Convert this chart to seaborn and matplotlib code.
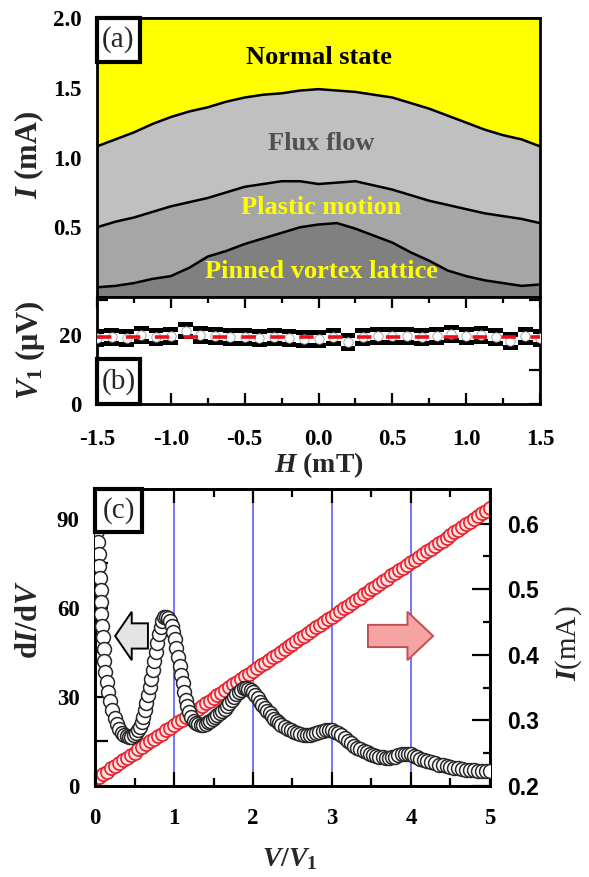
import numpy as np
import matplotlib
matplotlib.use('Agg')
import matplotlib.pyplot as plt
import seaborn as sns
from matplotlib.patches import Rectangle, FancyArrow
from matplotlib.ticker import FixedLocator

# (a) phase boundaries I(H)
field = [-1.5, -1.375, -1.25, -1.125, -1.0, -0.875, -0.75, -0.625, -0.5, -0.375, -0.25, -0.125,
         0.0, 0.125, 0.25, 0.375, 0.5, 0.625, 0.75, 0.875, 1.0, 1.125, 1.25, 1.375, 1.5]
i_normal = [1.08, 1.13, 1.18, 1.24, 1.29, 1.33, 1.36, 1.40, 1.43, 1.45, 1.46, 1.48,
            1.49, 1.48, 1.47, 1.45, 1.43, 1.39, 1.35, 1.30, 1.25, 1.20, 1.16, 1.13, 1.08]
i_plastic = [0.50, 0.54, 0.57, 0.61, 0.65, 0.68, 0.71, 0.75, 0.79, 0.81, 0.83, 0.83,
             0.81, 0.82, 0.83, 0.80, 0.77, 0.73, 0.69, 0.66, 0.63, 0.60, 0.58, 0.56, 0.53]
i_pinned = [0.07, 0.08, 0.10, 0.13, 0.15, 0.21, 0.29, 0.33, 0.38, 0.42, 0.46, 0.50,
            0.52, 0.53, 0.49, 0.44, 0.39, 0.32, 0.26, 0.19, 0.15, 0.12, 0.10, 0.08, 0.09]
h_major = [-1.5, -1.0, -0.5, 0.0, 0.5, 1.0, 1.5]
h_minor = [-1.25, -0.75, -0.25, 0.25, 0.75, 1.25]
h_labels = ['-1.5', '-1.0', '-0.5', '0.0', '0.5', '1.0', '1.5']

# (b) V1(H)
field_b = [-1.5, -1.4, -1.3, -1.2, -1.1, -1.0, -0.9, -0.8, -0.7, -0.6, -0.5, -0.4, -0.3, -0.2, -0.1,
           0.0, 0.1, 0.2, 0.3, 0.4, 0.5, 0.6, 0.7, 0.8, 0.9, 1.0, 1.1, 1.2, 1.3, 1.4, 1.5]
v1 = [19.0, 19.4, 19.1, 20.1, 19.3, 19.7, 21.3, 19.9, 19.6, 19.5, 19.4, 19.2, 19.3, 19.0, 18.8,
      18.9, 19.4, 17.9, 19.3, 19.8, 19.8, 19.6, 19.5, 19.6, 20.4, 19.6, 20.1, 19.5, 18.2, 19.6, 19.0]
v1_mean = 19.5

# (c) dI/dV vs V/V1
vv1 = [0.02, 0.03, 0.04, 0.05, 0.055, 0.06, 0.07, 0.075, 0.08, 0.09, 0.10, 0.11, 0.12, 0.13, 0.15,
       0.17, 0.19, 0.22, 0.25, 0.28, 0.31, 0.34, 0.37, 0.40, 0.43, 0.46, 0.49, 0.52, 0.55, 0.57,
       0.59, 0.61, 0.63, 0.65, 0.67, 0.69, 0.71, 0.73, 0.75, 0.77, 0.79, 0.81, 0.83, 0.85, 0.875,
       0.90, 0.925, 0.95, 0.97, 0.99, 1.01, 1.03, 1.05, 1.07, 1.09, 1.11, 1.13, 1.15, 1.17, 1.19,
       1.22, 1.25, 1.28, 1.31, 1.34, 1.37, 1.40, 1.43, 1.46, 1.49, 1.52, 1.55, 1.58, 1.61, 1.64,
       1.67, 1.70, 1.73, 1.76, 1.79, 1.82, 1.85, 1.88, 1.91, 1.94, 1.97, 2.00, 2.03, 2.06, 2.09,
       2.12, 2.15, 2.18, 2.21, 2.24, 2.27, 2.30, 2.33, 2.36, 2.40, 2.44, 2.48, 2.52, 2.56, 2.60,
       2.64, 2.68, 2.72, 2.76, 2.80, 2.84, 2.88, 2.92, 2.96, 3.00, 3.04, 3.08, 3.12, 3.16, 3.20,
       3.24, 3.28, 3.32, 3.36, 3.40, 3.44, 3.48, 3.52, 3.56, 3.60, 3.64, 3.68, 3.72, 3.76, 3.80,
       3.84, 3.88, 3.92, 3.96, 4.00, 4.04, 4.08, 4.12, 4.16, 4.20, 4.25, 4.30, 4.35, 4.40, 4.45,
       4.50, 4.55, 4.60, 4.65, 4.70, 4.75, 4.80, 4.85, 4.90, 4.95, 5.00]
didv = [90, 86, 82, 78, 74, 70, 66, 62, 58, 54, 50, 46, 42, 38.5, 35,
        31.5, 28.5, 25.5, 23, 21, 19.3, 18, 17.2, 16.7, 16.5, 16.6, 17.0, 17.8, 18.8, 20,
        21.5, 23.3, 25.5, 28, 30.5, 33.3, 36, 39, 42, 45, 48, 51, 53.5, 55.5, 56.8,
        57, 56.5, 55.5, 54, 52, 49.5, 46.5, 43.5, 40.5, 37.5, 34.5, 31.5, 29, 26.8, 25,
        23.3, 22, 21.2, 20.7, 20.5, 20.6, 21, 21.5, 22, 22.6, 23.2, 23.9, 24.6, 25.3, 26.0,
        26.9, 27.9, 28.9, 29.9, 30.8, 31.7, 32.4, 32.9, 33, 32.8, 32.3, 31.6, 30.6, 29.5, 28.4,
        27.3, 26.3, 25.3, 24.4, 23.5, 22.7, 22, 21.3, 20.6, 19.9, 19.3, 18.8, 18.3, 17.9, 17.5,
        17.3, 17.2, 17.2, 17.4, 17.7, 18.1, 18.5, 18.8, 18.9, 18.7, 18.3, 17.7, 17.0, 16.1, 15.2,
        14.4, 13.6, 12.9, 12.3, 11.8, 11.3, 10.9, 10.5, 10.1, 9.8, 9.6, 9.4, 9.4, 9.6, 9.9,
        10.3, 10.6, 10.8, 10.8, 10.6, 10.2, 9.7, 9.2, 8.8, 8.4, 8.0, 7.6, 7.2, 6.9, 6.6,
        6.3, 6.1, 5.9, 5.7, 5.5, 5.4, 5.3, 5.2, 5.1, 5.0, 5.0]

# (c) I vs V/V1
vv1_i = [0.00, 0.05, 0.10, 0.15, 0.20, 0.25, 0.30, 0.35, 0.40, 0.45, 0.50, 0.55, 0.60, 0.65, 0.70,
         0.75, 0.80, 0.85, 0.90, 0.95, 1.00, 1.05, 1.10, 1.15, 1.20, 1.25, 1.30, 1.35, 1.40, 1.45,
         1.50, 1.55, 1.60, 1.65, 1.70, 1.75, 1.80, 1.85, 1.90, 1.95, 2.00, 2.05, 2.10, 2.15, 2.20,
         2.25, 2.30, 2.35, 2.40, 2.45, 2.50, 2.55, 2.60, 2.65, 2.70, 2.75, 2.80, 2.85, 2.90, 2.95,
         3.00, 3.05, 3.10, 3.15, 3.20, 3.25, 3.30, 3.35, 3.40, 3.45, 3.50, 3.55, 3.60, 3.65, 3.70,
         3.75, 3.80, 3.85, 3.90, 3.95, 4.00, 4.05, 4.10, 4.15, 4.20, 4.25, 4.30, 4.35, 4.40, 4.45,
         4.50, 4.55, 4.60, 4.65, 4.70, 4.75, 4.80, 4.85, 4.90, 4.95, 5.00]
current = [0.210, 0.214, 0.218, 0.222, 0.227, 0.231, 0.235, 0.239, 0.243, 0.247, 0.251, 0.256,
           0.260, 0.264, 0.268, 0.272, 0.276, 0.280, 0.285, 0.289, 0.293, 0.297, 0.301, 0.305,
           0.309, 0.314, 0.318, 0.322, 0.326, 0.330, 0.334, 0.338, 0.342, 0.347, 0.351, 0.355,
           0.359, 0.363, 0.367, 0.371, 0.376, 0.380, 0.384, 0.388, 0.392, 0.396, 0.400, 0.405,
           0.409, 0.413, 0.417, 0.421, 0.425, 0.429, 0.434, 0.438, 0.442, 0.446, 0.450, 0.454,
           0.458, 0.463, 0.467, 0.471, 0.475, 0.479, 0.483, 0.487, 0.492, 0.496, 0.500, 0.504,
           0.508, 0.512, 0.516, 0.521, 0.525, 0.529, 0.533, 0.537, 0.541, 0.545, 0.549, 0.554,
           0.558, 0.562, 0.566, 0.570, 0.574, 0.578, 0.583, 0.587, 0.591, 0.595, 0.599, 0.603,
           0.607, 0.612, 0.616, 0.620, 0.624]
matching = [1, 2, 3, 4]

sns.set_theme(style='ticks')
plt.rcParams['font.family'] = ['Liberation Serif', 'DejaVu Serif']
plt.rcParams['font.weight'] = 'bold'
plt.rcParams['mathtext.fontset'] = 'custom'
plt.rcParams['mathtext.rm'] = 'Liberation Serif:bold'
plt.rcParams['mathtext.it'] = 'Liberation Serif:italic:bold'
plt.rcParams['mathtext.bf'] = 'Liberation Serif:bold'
plt.rcParams['axes.unicode_minus'] = False

TICK_FS = 16.5
YLAB_FS = 22
XLAB_FS = 20


def frame(ax):
    for s in ax.spines.values():
        s.set_visible(True)
        s.set_linewidth(2)
        s.set_color('black')
    ax.tick_params(which='both', direction='in', width=1.6, color='black', labelsize=TICK_FS,
                   labelcolor='black')
    ax.tick_params(which='major', length=8)
    ax.tick_params(which='minor', length=4.5)
    ax.tick_params(axis='y', pad=11)


def tag(ax, label, x0, y0, w, h):
    ax.add_patch(Rectangle((x0, y0), w, h, transform=ax.transAxes, fc='white', ec='black',
                           lw=3, zorder=20, clip_on=False))
    ax.text(x0 + w / 2, y0 + h / 2, label, transform=ax.transAxes, ha='center', va='center',
            fontsize=21, fontweight='normal', zorder=21)


fig = plt.figure(figsize=(5.89, 8.77), dpi=100)
ax_a = fig.add_axes([0.1647, 0.6613, 0.7521, 0.3182])
ax_b = fig.add_axes([0.1647, 0.5393, 0.7521, 0.1220])
ax_c = fig.add_axes([0.1613, 0.1038, 0.6706, 0.3387])

# ---- (a)
ax_a.fill_between(field, i_normal, 2.0, color='#ffff00', lw=0)
ax_a.fill_between(field, i_plastic, i_normal, color='#c0c0c0', lw=0)
ax_a.fill_between(field, i_pinned, i_plastic, color='#a6a6a6', lw=0)
ax_a.fill_between(field, 0, i_pinned, color='#808080', lw=0)
for curve in (i_normal, i_plastic, i_pinned):
    sns.lineplot(x=field, y=curve, ax=ax_a, color='black', lw=1.8, estimator=None, sort=False)
ax_a.set_xlim(-1.5, 1.5)
ax_a.set_ylim(0, 2.0)
frame(ax_a)
ax_a.xaxis.set_major_locator(FixedLocator(h_major))
ax_a.xaxis.set_minor_locator(FixedLocator(h_minor))
ax_a.tick_params(axis='x', which='both', bottom=True, top=False, labelbottom=False, color='white')
top = ax_a.secondary_xaxis('top')
top.xaxis.set_major_locator(FixedLocator(h_major))
top.xaxis.set_minor_locator(FixedLocator(h_minor))
top.tick_params(which='both', direction='in', width=1.6, color='black', labeltop=False)
top.tick_params(which='major', length=8)
top.tick_params(which='minor', length=4.5)
top.spines['top'].set_linewidth(2)
ax_a.yaxis.set_major_locator(FixedLocator([0.5, 1.0, 1.5, 2.0]))
ax_a.yaxis.set_minor_locator(FixedLocator([0.25, 0.75, 1.25, 1.75]))
ax_a.tick_params(axis='y', which='both', length=8)
ax_a.set_yticklabels(['0.5', '1.0', '1.5', '2.0'])
ax_a.set_xlabel('')
ax_a.set_ylabel(r'$I$ (mA)', fontsize=YLAB_FS, fontweight='bold')
ax_a.yaxis.set_label_coords(-0.152, 0.51)
ax_a.yaxis.label.set_verticalalignment('center')
ax_a.text(0.0, 1.72, 'Normal state', ha='center', va='center', fontsize=19, color='black')
ax_a.text(0.02, 1.10, 'Flux flow', ha='center', va='center', fontsize=19, color='#505050')
ax_a.text(0.02, 0.645, 'Plastic motion', ha='center', va='center', fontsize=19, color='#ffff00')
ax_a.text(0.02, 0.18, 'Pinned vortex lattice', ha='center', va='center', fontsize=19,
          color='#ffff00')
tag(ax_a, '(a)', 0.0, 1 - 0.158, 0.097, 0.158)

# ---- (b)
v1_arr = np.array(v1)
ax_b.fill_between(field_b, v1_arr - 2.6, v1_arr + 2.6, step='mid', color='black', lw=0)
ax_b.fill_between(field_b, v1_arr - 1.15, v1_arr + 1.15, step='mid', color='white', lw=0)
sns.scatterplot(x=field_b, y=v1, ax=ax_b, s=45, color='white', edgecolor='#999999',
                linewidth=0.6, zorder=3, legend=False)
ax_b.axhline(v1_mean, color='#e8101a', lw=2.6, ls=(0, (4, 4)), zorder=4)
ax_b.set_xlim(-1.5, 1.5)
ax_b.set_ylim(0, 31)
frame(ax_b)
ax_b.xaxis.set_major_locator(FixedLocator(h_major))
ax_b.xaxis.set_minor_locator(FixedLocator(h_minor))
ax_b.set_xticklabels(h_labels)
ax_b.tick_params(axis='x', which='both', top=True, bottom=True, pad=18)
ax_b.tick_params(axis='y', which='both', left=True, right=True)
ax_b.yaxis.set_major_locator(FixedLocator([0, 10, 20, 30]))
ax_b.set_yticklabels(['0', '', '20', ''])
ax_b.set_xlabel(r'$H$ (mT)', fontsize=XLAB_FS, fontweight='bold')
ax_b.xaxis.set_label_coords(0.5, -0.57)
ax_b.xaxis.label.set_verticalalignment('center')
ax_b.set_ylabel(r'$V_1$ (μV)', fontsize=YLAB_FS, fontweight='bold')
ax_b.yaxis.set_label_coords(-0.152, 0.5)
ax_b.yaxis.label.set_verticalalignment('center')
tag(ax_b, '(b)', 0.0, 0.0, 0.097, 0.42)

# ---- (c)
ax_r = ax_c.twinx()
for v in matching:
    ax_r.axvline(v, color='#5050ff', lw=1.1, zorder=0)
sns.scatterplot(x=vv1_i, y=current, ax=ax_r, s=90, color='#ffe0e0', edgecolor='#e8202a',
                linewidth=1.2, zorder=2, legend=False)
sns.scatterplot(x=vv1, y=didv, ax=ax_c, s=100, color='white', edgecolor='#262626',
                linewidth=1.1, zorder=3, legend=False)
ax_c.set_zorder(ax_r.get_zorder() + 1)
ax_c.patch.set_visible(False)

ax_c.set_xlim(0, 5)
ax_c.set_ylim(0, 100)
ax_r.set_ylim(0.2, 0.653)
frame(ax_c)
frame(ax_r)
ax_c.xaxis.set_major_locator(FixedLocator([0, 1, 2, 3, 4, 5]))
ax_c.xaxis.set_minor_locator(FixedLocator([0.5, 1.5, 2.5, 3.5, 4.5]))
ax_c.yaxis.set_major_locator(FixedLocator([0, 30, 60, 90]))
ax_c.yaxis.set_minor_locator(FixedLocator([15, 45, 75]))
ax_c.tick_params(axis='x', which='both', top=True, bottom=True, pad=16)
ax_c.tick_params(axis='x', which='major', length=10)
ax_c.tick_params(axis='x', which='minor', length=6)
ax_c.tick_params(axis='y', which='both', left=True, right=False, length=9)
ax_r.yaxis.set_major_locator(FixedLocator([0.2, 0.3, 0.4, 0.5, 0.6]))
ax_r.yaxis.set_minor_locator(FixedLocator([0.25, 0.35, 0.45, 0.55]))
ax_r.tick_params(axis='y', which='major', length=13, pad=12)
ax_r.tick_params(axis='y', which='minor', length=5)
ax_r.set_yticklabels(['0.2', '0.3', '0.4', '0.5', '0.6'],
                     fontdict={'family': 'Liberation Sans', 'weight': 'bold', 'size': 16.5})
ax_c.set_xlabel(r'$V/V_1$', fontsize=XLAB_FS, fontweight='bold')
ax_c.xaxis.set_label_coords(0.494, -0.245)
ax_c.xaxis.label.set_verticalalignment('center')
ax_c.set_ylabel(r'd$I$/d$V$', fontsize=YLAB_FS, fontweight='bold')
ax_c.yaxis.set_label_coords(-0.165, 0.56)
ax_c.yaxis.label.set_verticalalignment('center')
ax_r.set_ylabel(r'$I$(mA)', fontsize=21, fontweight='normal', rotation=90)
ax_r.yaxis.set_label_coords(1.2, 0.48)
ax_r.yaxis.label.set_verticalalignment('center')

ax_c.add_patch(FancyArrow(0.134, 0.505, -0.083, 0, width=0.085, head_width=0.163,
                          head_length=0.042, length_includes_head=True,
                          transform=ax_c.transAxes, fc='#e4e4e4', ec='black', lw=1.4, zorder=6))
ax_c.add_patch(FancyArrow(0.691, 0.505, 0.165, 0, width=0.075, head_width=0.163,
                          head_length=0.065, length_includes_head=True,
                          transform=ax_c.transAxes, fc='#f5a3a3', ec='#c0504d', lw=1.4, zorder=6))
tag(ax_c, '(c)', 0.0, 1 - 0.145, 0.12, 0.145)

fig.savefig('out.png', dpi=100)
